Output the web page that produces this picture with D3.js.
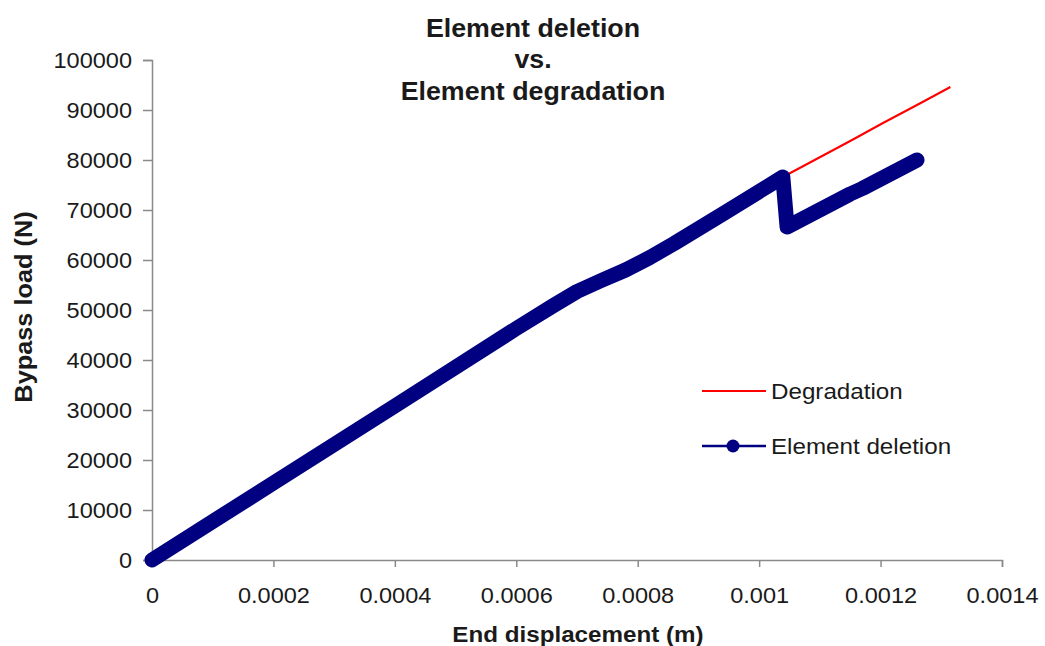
<!DOCTYPE html>
<html>
<head>
<meta charset="utf-8">
<script src="https://cdn.jsdelivr.net/npm/d3@7/dist/d3.min.js"></script>
<style>
  html, body { margin: 0; padding: 0; background: #fff; }
  svg { display: block; font-family: "Liberation Sans", Arial, sans-serif; }
</style>
</head>
<body>
<svg id="chart" width="1045" height="646"></svg>
<script>
// Displacement ticks (m) and load ticks (N)
const xTickValues = [0, 0.0002, 0.0004, 0.0006, 0.0008, 0.001, 0.0012, 0.0014];
const xTickLabels = ["0", "0.0002", "0.0004", "0.0006", "0.0008", "0.001", "0.0012", "0.0014"];
const yTickValues = [0, 10000, 20000, 30000, 40000, 50000, 60000, 70000, 80000, 90000, 100000];
const yTickLabels = ["0", "10000", "20000", "30000", "40000", "50000", "60000", "70000", "80000", "90000", "100000"];

// Element deletion: load-displacement response with the sudden drop
const deletionDisp = [0, 0.0002, 0.0004, 0.0006, 0.00066, 0.0007, 0.00074, 0.00078, 0.00082, 0.00086, 0.00094, 0.001039, 0.001046, 0.00115, 0.00117, 0.00126];
const deletionLoad = [0, 15400, 30800, 46300, 50800, 53700, 55900, 58000, 60500, 63300, 69200, 76600, 66600, 73200, 74300, 80000];

// Element degradation: continues past the drop point
const degradationDisp = [0.001039, 0.00115, 0.001204, 0.00126, 0.001315];
const degradationLoad = [76600, 83800, 87400, 91000, 94600];

const seriesNames = ["Degradation", "Element deletion"];
const titleLines = ["Element deletion", "vs.", "Element degradation"];

const svg = d3.select("#chart");
const textColor = "#1a1a1a";
const axisColor = "#8a8a8a";
const navy = "#000080";
const red = "#ff0000";

// Widen glyphs along the text direction, keeping the anchor point fixed
function widen(sel, sx) {
  sel.each(function () {
    const t = d3.select(this);
    const ax = +t.attr("x") || 0;
    const ay = +t.attr("y") || 0;
    const prev = t.attr("transform") || "";
    t.attr("transform", `${prev} translate(${ax},${ay}) scale(${sx},1) translate(${-ax},${-ay})`);
  });
}

const x = d3.scaleLinear().domain([0, 0.0014]).range([152, 1002]);
const y = d3.scaleLinear().domain([0, 100000]).range([560, 60]);

// Title
const title = svg.append("text")
  .attr("x", 533).attr("y", 37)
  .attr("text-anchor", "middle")
  .attr("font-size", 25.5).attr("font-weight", "bold").attr("fill", textColor);
title.selectAll("tspan").data(titleLines).join("tspan")
  .attr("x", 533)
  .attr("dy", (d, i) => i === 0 ? 0 : 31.5)
  .text(d => d);
widen(title, 1.05);

// Axes
const xAxis = d3.axisBottom(x)
  .tickValues(xTickValues)
  .tickFormat((d, i) => xTickLabels[i])
  .tickSizeOuter(0).tickSize(7).tickPadding(20);
const gx = svg.append("g").attr("transform", `translate(0,${y(0)})`).call(xAxis);

const yAxis = d3.axisLeft(y)
  .tickValues(yTickValues)
  .tickFormat((d, i) => yTickLabels[i])
  .tickSizeOuter(0).tickSize(9).tickPadding(11);
const gy = svg.append("g").attr("transform", `translate(${x(0)},0)`).call(yAxis);

[gx, gy].forEach(g => {
  g.select(".domain").attr("stroke", axisColor).attr("stroke-width", 1.5);
  g.selectAll(".tick line").attr("stroke", axisColor).attr("stroke-width", 1.5);
  const labels = g.selectAll(".tick text")
    .attr("fill", textColor)
    .attr("font-size", 22)
    .attr("font-family", "'Liberation Sans', Arial, sans-serif");
  widen(labels, 1.07);
});

// Axis titles
const xTitle = svg.append("text")
  .attr("x", 578).attr("y", 642)
  .attr("text-anchor", "middle")
  .attr("font-size", 22).attr("font-weight", "bold").attr("fill", textColor)
  .text("End displacement (m)");
widen(xTitle, 1.1);

const yTitle = svg.append("text")
  .attr("x", 0).attr("y", 0)
  .attr("transform", "translate(32,307) rotate(-90)")
  .attr("text-anchor", "middle")
  .attr("font-size", 24).attr("font-weight", "bold").attr("fill", textColor)
  .text("Bypass load (N)");
widen(yTitle, 1.055);

// Series
const line = d3.line().x(d => x(d[0])).y(d => y(d[1]));

const degradation = degradationDisp.map((d, i) => [d, degradationLoad[i]]);
const deletion = deletionDisp.map((d, i) => [d, deletionLoad[i]]);

svg.append("path")
  .datum(degradation)
  .attr("d", line)
  .attr("fill", "none")
  .attr("stroke", red)
  .attr("stroke-width", 2)
  .attr("stroke-linejoin", "round");

svg.append("path")
  .datum(deletion)
  .attr("d", line)
  .attr("fill", "none")
  .attr("stroke", navy)
  .attr("stroke-width", 15)
  .attr("stroke-linecap", "round")
  .attr("stroke-linejoin", "round");

// Legend
const legend = svg.append("g");
const legendRows = [
  { name: seriesNames[0], color: red, y: 391, marker: false },
  { name: seriesNames[1], color: navy, y: 446, marker: true }
];
legendRows.forEach(r => {
  legend.append("line")
    .attr("x1", 702).attr("x2", 766)
    .attr("y1", r.y).attr("y2", r.y)
    .attr("stroke", r.color).attr("stroke-width", r.marker ? 2.5 : 2);
  if (r.marker) {
    legend.append("circle")
      .attr("cx", 733).attr("cy", r.y).attr("r", 6.5)
      .attr("fill", r.color);
  }
  const label = legend.append("text")
    .attr("x", 771).attr("y", r.y + 8)
    .attr("font-size", 22).attr("fill", textColor)
    .text(r.name);
  widen(label, 1.1);
});
</script>
</body>
</html>
